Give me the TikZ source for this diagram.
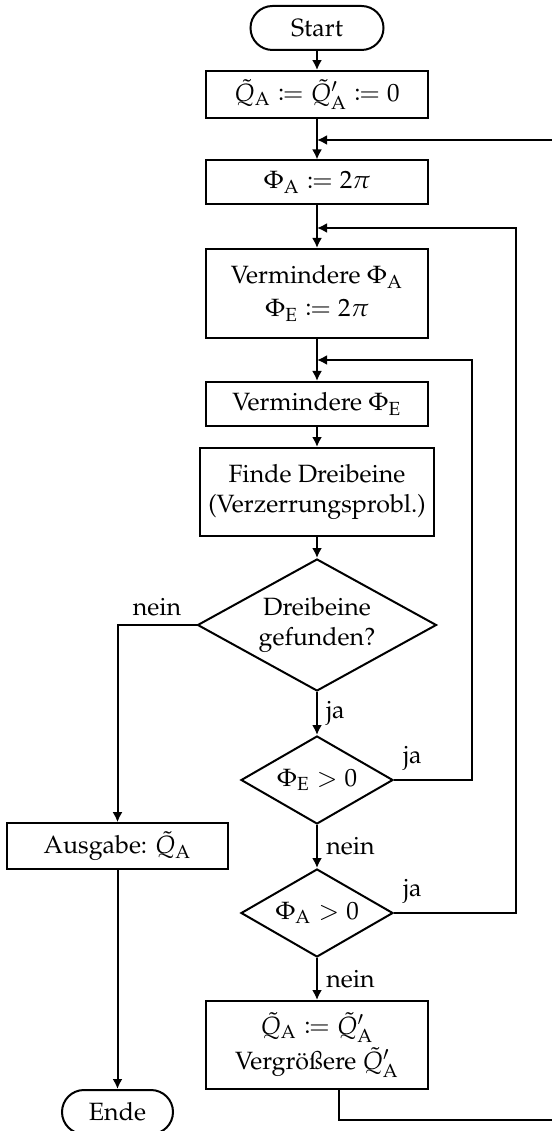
\documentclass[tikz,border=0pt]{standalone}
\usepackage[T1]{fontenc}
\usepackage{mathpazo}
\usepackage{mathtools}
\usetikzlibrary{%
        arrows.meta,
        shapes.geometric
    }
\tikzset{%
    process/.style={%
        draw,
        line width=0.8pt,
        minimum width=88.8pt,
        minimum height=17.6pt,
        align=center
    },
    decision/.style={%
        draw,
        diamond,
        aspect=1.8,
        inner sep=0pt,
        line width=0.8pt,
        align=center
    },
    terminal/.style={%
        draw,
        rounded corners=8.8pt,
        minimum height=17.6pt,
        line width=0.8pt
    },
    flow/.style={-{Latex[length=4pt, width=4pt]}, line width=0.8pt}
}

\begin{document}
\begin{tikzpicture}[x=0.4pt, y=-0.4pt]

    \useasboundingbox (0, 0) rectangle (552, 1131);
    \clip (0, 0) rectangle (552, 1131);

    % Initialisation
    \node[terminal, minimum width=53.2pt] (start) at (317, 28) {Start};
    \node[process] (init) at (317, 94.5)
        {$\tilde{Q}_\mathrm{A} \coloneqq \tilde{Q}'_\mathrm{A} \coloneqq 0$};
    \node[process] (phiA) at (317, 182.5) {$\Phi_\mathrm{A} \coloneqq 2\pi$};

    % Loop bodies
    \node[process, minimum height=35.6pt] (decA) at (317, 293.5)
        {Vermindere $\Phi_\mathrm{A}$\\[1pt] $\Phi_\mathrm{E} \coloneqq 2\pi$};
    \node[process] (decE) at (317, 404) {Vermindere $\Phi_\mathrm{E}$};
    \node[process, minimum height=35.2pt] (find) at (317, 492)
        {Finde Dreibeine\\ (Verzerrungsprobl.)};

    % Decisions
    \node[decision, minimum width=95.6pt, minimum height=52.8pt] (found)
        at (317, 625) {Dreibeine\\ gefunden?};
    \node[decision, minimum width=60.8pt, minimum height=35.2pt] (testE)
        at (317, 780) {$\Phi_\mathrm{E} > 0$};
    \node[decision, minimum width=60.8pt, minimum height=35.2pt] (testA)
        at (317, 913) {$\Phi_\mathrm{A} > 0$};

    \node[process, minimum height=35.2pt] (update) at (317, 1045)
        {$\tilde{Q}_\mathrm{A} \coloneqq \tilde{Q}'_\mathrm{A}$\\[1pt]
         Vergr\"o\ss ere $\tilde{Q}'_\mathrm{A}$};

    % Output
    \node[process, minimum width=88.4pt] (output) at (117.5, 846)
        {Ausgabe: $\tilde{Q}_\mathrm{A}$};
    \node[terminal, minimum width=44.4pt] (finish) at (117.5, 1112) {Ende};

    % Merge points and loop corners
    \coordinate (m1) at (317, 140);
    \coordinate (m2) at (317, 228);
    \coordinate (m3) at (317, 360);
    \coordinate (loopE) at (472, 360);
    \coordinate (loopA) at (516, 228);
    \coordinate (loopQ) at (560, 140);
    \coordinate (loopQb) at (560, 1120);

    % Main column
    \draw[flow] (start) -- (init);
    \draw[flow] (init) -- (phiA);
    \draw[flow] (phiA) -- (decA);
    \draw[flow] (decA) -- (decE);
    \draw[flow] (decE) -- (find);
    \draw[flow] (find) -- (found);
    \draw[flow] (found) -- node[right] {ja} (testE);
    \draw[flow] (testE) -- node[right] {nein} (testA);
    \draw[flow] (testA) -- node[right] {nein} (update);

    % Loops back up
    \draw[flow] (testE.east) node[above right] {ja} -| (loopE) -- (m3);
    \draw[flow] (testA.east) node[above right] {ja} -| (loopA) -- (m2);
    \draw[flow] ([xshift=8.8pt] update.south) |- (loopQb) -- (loopQ) -- (m1);

    % Leaving
    \draw[flow] (found.west) -| node[above, pos=0.25] {nein} (output.north);
    \draw[flow] (output) -- (finish);

\end{tikzpicture}
\end{document}
